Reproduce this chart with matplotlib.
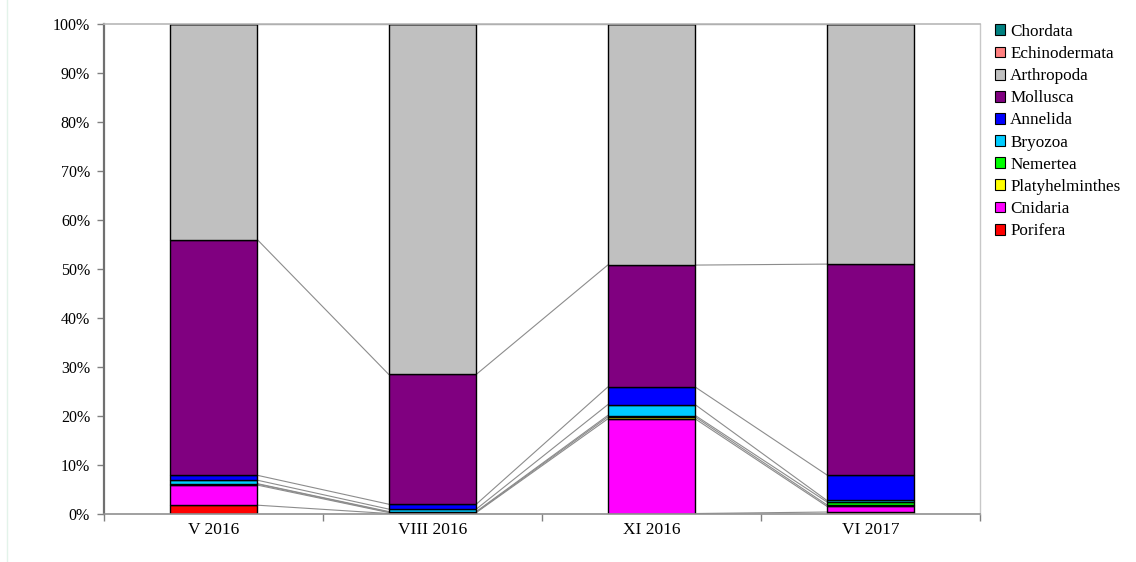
import matplotlib
matplotlib.use("Agg")
import matplotlib.pyplot as plt
import numpy as np
from matplotlib.lines import Line2D

# ----------------- DATA -----------------
samples = ["V 2016", "VIII 2016", "XI 2016", "VI 2017"]

# bottom -> top stacking order
phyla = ["Porifera", "Cnidaria", "Platyhelminthes", "Nemertea", "Bryozoa",
         "Annelida", "Mollusca", "Arthropoda", "Echinodermata", "Chordata"]

porifera = [1.8, 0.1, 0.1, 0.4]
cnidaria = [4.1, 0.2, 19.3, 1.2]
platyhelminthes = [0.2, 0.1, 0.4, 0.3]
nemertea = [0.1, 0.1, 0.3, 0.6]
bryozoa = [0.7, 0.5, 2.2, 0.3]
annelida = [1.0, 1.0, 3.6, 5.2]
mollusca = [48.1, 26.5, 24.9, 43.0]
arthropoda = [44.0, 71.5, 49.2, 49.0]
echinodermata = [0.0, 0.0, 0.0, 0.0]
chordata = [0.0, 0.0, 0.0, 0.0]

colors = ["#FF0000", "#FF00FF", "#FFFF00", "#00FF00", "#00CCFF",
          "#0000FF", "#800080", "#C0C0C0", "#FF8080", "#008080"]

# ----------------- STYLE -----------------
plt.rcParams["font.family"] = ["Liberation Serif", "DejaVu Serif"]
plt.rcParams["font.size"] = 11.5

series = [porifera, cnidaria, platyhelminthes, nemertea, bryozoa,
          annelida, mollusca, arthropoda, echinodermata, chordata]

fig = plt.figure(figsize=(11.36, 5.62), dpi=100)
ax = fig.add_axes([104 / 1136, 1 - 514 / 562, 876 / 1136, 490 / 562])

x = np.arange(len(samples))
bar_w = 0.4
bottom = np.zeros(len(samples))
handles = []
for name, vals, col in zip(phyla, series, colors):
    vals = np.array(vals, dtype=float)
    top = bottom + vals
    # series lines between neighbouring bars
    for i in range(len(samples) - 1):
        ax.plot([x[i] + bar_w / 2, x[i + 1] - bar_w / 2], [top[i], top[i + 1]],
                color="#8c8c8c", lw=0.8, zorder=1)
    ax.bar(x, vals, bar_w, bottom=bottom, color=col, edgecolor="black",
           linewidth=1.0, zorder=2)
    handles.append(plt.Rectangle((0, 0), 1, 1, facecolor=col,
                                 edgecolor="black", linewidth=0.8))
    bottom = top

ax.set_xlim(-0.5, len(samples) - 0.5)
ax.set_ylim(0, 100)

# y axis
ax.set_yticks(np.arange(0, 101, 10))
ax.set_yticklabels([f"{v}%" for v in range(0, 101, 10)])
ax.tick_params(axis="y", direction="out", length=5, width=1, color="#808080", pad=5)

# x axis: tick marks between categories, labels centred
ax.set_xticks(np.arange(-0.5, len(samples), 1.0))
ax.set_xticklabels([])
ax.set_xticks(x, minor=True)
ax.set_xticklabels(samples, minor=True, fontsize=12.5)
ax.tick_params(axis="x", which="major", direction="out", length=5, width=1, color="#808080")
ax.tick_params(axis="x", which="minor", length=0, pad=6)

ax.spines["left"].set_color("#707070")
ax.spines["left"].set_linewidth(1.6)
ax.spines["bottom"].set_color("#909090")
ax.spines["bottom"].set_linewidth(1.2)
ax.spines["top"].set_color("#b8b8b8")
ax.spines["top"].set_linewidth(1.2)
ax.spines["right"].set_color("#c8c8c8")
ax.spines["right"].set_linewidth(1.0)

# legend (top entry = last stacked series)
fig.legend(handles[::-1], phyla[::-1], loc="upper left",
           bbox_to_anchor=(988 / 1136, 1 - 17 / 562), frameon=False,
           handlelength=0.6, handleheight=0.6, handletextpad=0.3,
           labelspacing=0.36, fontsize=12.3, borderaxespad=0)

# faint outer chart border on the left
fig.add_artist(Line2D([7 / 1136, 7 / 1136], [0.0, 1.0], color="#e3f3ea", lw=1,
                      transform=fig.transFigure))

fig.savefig("out.png", dpi=100, facecolor="white")
